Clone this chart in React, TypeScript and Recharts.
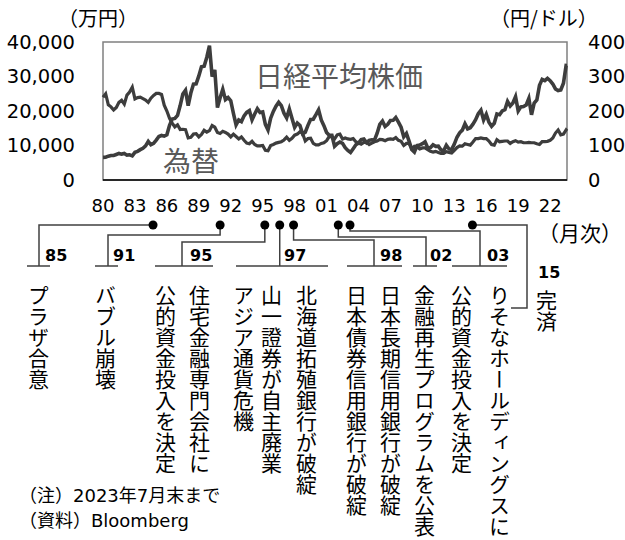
import React from 'react';
import { ComposedChart, Line, XAxis, YAxis, ReferenceArea, ReferenceDot } from 'recharts';

// ---- data ----
const START_YEAR = 1980;
const LAST_POINT = 2023 + 7 / 12; // end of July 2023

// Nikkei 225, quarterly (start of each quarter), 1980 Q1 .. 2023, last = Jul 2023
const nikkeiQuarterly = [
  6570, 6600, 6900, 7100, // 1980
  7116, 7400, 7700, 7500, // 1981
  7682, 7200, 7300, 7000, // 1982
  8017, 8300, 8800, 9200, // 1983
  9894, 11200, 10200, 10600, // 1984
  11543, 12600, 12900, 12700, // 1985
  13113, 15860, 17650, 17850, // 1986
  18701, 21570, 24900, 26000, // 1987
  21564, 25200, 27800, 27900, // 1988
  30159, 32800, 33000, 35600, // 1989
  38916, 29980, 31940, 20984, // 1990
  23849, 26290, 23290, 23916, // 1991
  22984, 19346, 15951, 17399, // 1992
  16925, 18591, 19590, 20106, // 1993
  17417, 19112, 20643, 19564, // 1994
  19723, 16140, 14517, 17913, // 1995
  19868, 21407, 22531, 21556, // 1996
  19361, 18003, 20605, 17888, // 1997
  15259, 16527, 15830, 13406, // 1998
  13842, 15837, 17530, 17605, // 1999
  18934, 20337, 17411, 15747, // 2000
  13786, 12999, 12969, 9775, // 2001
  10543, 11025, 10622, 9383, // 2002
  8579, 7973, 9083, 10219, // 2003
  10677, 11715, 11858, 10824, // 2004
  11489, 11669, 11584, 13574, // 2005
  16111, 17060, 15505, 16128, // 2006
  17226, 17288, 18138, 16786, // 2007
  15308, 12526, 13481, 11260, // 2008
  8860, 8110, 9958, 10133, // 2009
  10546, 11090, 9383, 9369, // 2010
  10229, 9755, 9816, 8700, // 2011
  8455, 10084, 9007, 8870, // 2012
  10395, 12398, 13677, 14456, // 2013
  16291, 14828, 15162, 16174, // 2014
  17451, 19207, 20236, 17388, // 2015
  19034, 16759, 15576, 16450, // 2016
  19114, 18909, 20033, 20356, // 2017
  22765, 21454, 22305, 24120, // 2018
  20015, 21206, 21276, 21756, // 2019
  23657, 18917, 22288, 23185, // 2020
  27444, 29179, 28792, 29453, // 2021
  28792, 27821, 26393, 25937, // 2022
  26095, 28041, 33189, // 2023
  33172, // Jul 2023
];

// USD/JPY, same periods
const usdJpyQuarterly = [
  240, 250, 218, 212, // 1980
  203, 210, 225, 231, // 1981
  220, 246, 255, 269, // 1982
  235, 239, 240, 236, // 1983
  232, 225, 237, 245, // 1984
  251, 251, 248, 217, // 1985
  200, 179, 165, 154, // 1986
  160, 146, 147, 146, // 1987
  122, 124, 133, 134, // 1988
  125, 132, 144, 139, // 1989
  143, 158, 153, 138, // 1990
  135, 141, 138, 133, // 1991
  125, 133, 126, 119, // 1992
  125, 115, 107, 105, // 1993
  112, 103, 99, 99, // 1994
  100, 86, 85, 100, // 1995
  103, 107, 109, 111, // 1996
  116, 124, 115, 121, // 1997
  130, 133, 140, 135, // 1998
  113, 120, 121, 106, // 1999
  102, 102, 106, 108, // 2000
  114, 126, 125, 119, // 2001
  131, 133, 119, 122, // 2002
  119, 118, 120, 111, // 2003
  107, 104, 109, 110, // 2004
  103, 107, 111, 113, // 2005
  118, 117, 114, 118, // 2006
  119, 118, 123, 115, // 2007
  112, 100, 106, 106, // 2008
  91, 98, 96, 90, // 2009
  93, 93, 88, 83, // 2010
  81, 83, 80, 77, // 2011
  77, 82, 80, 78, // 2012
  86, 94, 99, 98, // 2013
  105, 103, 101, 110, // 2014
  120, 120, 122, 120, // 2015
  120, 113, 103, 101, // 2016
  117, 111, 112, 113, // 2017
  113, 106, 111, 114, // 2018
  110, 111, 108, 108, // 2019
  109, 108, 108, 105, // 2020
  103, 111, 111, 112, // 2021
  115, 122, 136, 145, // 2022
  131, 133, 145, // 2023
  142, // Jul 2023
];

const xTicks = [1980, 1983, 1986, 1989, 1992, 1995, 1998, 2001, 2004, 2007, 2010, 2013, 2016, 2019, 2022];
const leftTicks = [0, 10000, 20000, 30000, 40000];
const rightTicks = [0, 100, 200, 300, 400];

// events marked under the axis
const eventYears = [1984.7, 1991.0, 1995.2, 1996.6, 1997.9, 2002.1, 2003.2, 2014.7];
const eventTags = ['85', '91', '95', '97', '98', '02', '03', '15'];
const eventTexts = [
  ['プラザ合意'],
  ['バブル崩壊'],
  ['住宅金融専門会社に', '公的資金投入を決定'],
  ['北海道拓殖銀行が破綻', '山一證券が自主廃業', 'アジア通貨危機'],
  ['日本長期信用銀行が破綻', '日本債券信用銀行が破綻'],
  ['金融再生プログラムを公表'],
  ['りそなホールディングスに', '公的資金投入を決定'],
  ['完済'],
];

// ---- layout (pixels) ----
const DOT_DROP = 45;
const UNDERLINE_Y = 266;
const eventLayout = [
  { dropY: null, vx: 39, endY: UNDERLINE_Y, hookX: null, ul: [27, 50], tagX: 45, tagY: 255, cols: [38], colTop: 285 },
  { dropY: 235, vx: 108, endY: UNDERLINE_Y, hookX: null, ul: [95, 118], tagX: 113, tagY: 255, cols: [105], colTop: 285 },
  { dropY: 242, vx: 182, endY: UNDERLINE_Y, hookX: null, ul: [155, 213], tagX: 190, tagY: 255, cols: [199, 165], colTop: 285 },
  { dropY: null, vx: null, endY: UNDERLINE_Y, hookX: null, ul: [236, 328], tagX: 284, tagY: 255, cols: [306, 271, 243], colTop: 285 },
  { dropY: 240, vx: 374, endY: UNDERLINE_Y, hookX: null, ul: [347, 402], tagX: 380, tagY: 255, cols: [390, 356], colTop: 285 },
  { dropY: 237, vx: 426, endY: UNDERLINE_Y, hookX: null, ul: [413, 437], tagX: 430, tagY: 255, cols: [424], colTop: 285 },
  { dropY: 231, vx: 480, endY: UNDERLINE_Y, hookX: null, ul: [452, 507], tagX: 487, tagY: 255, cols: [499, 461], colTop: 285 },
  { dropY: null, vx: 527, endY: 308, hookX: 511, ul: null, tagX: 538, tagY: 272, cols: [546], colTop: 290 },
];

const JP = '"Noto Sans CJK JP", "Noto Sans", sans-serif';
const NUM = '"DejaVu Sans", Verdana, sans-serif';
const NOTE = '"DejaVu Sans", "Noto Sans CJK JP", sans-serif';
const LINE_COLOR = '#3d3d3d';
const LEADER = '#404040';

const data = nikkeiQuarterly.map((v, i) => ({
  t: i < nikkeiQuarterly.length - 1 ? START_YEAR + i / 4 : LAST_POINT,
  nikkei: v,
  fx: usdJpyQuarterly[i],
}));

const EventShape = (props: any) => {
  const { cx, cy, lay, tag } = props;
  if (cx == null || cy == null) return null;
  const y0 = cy + DOT_DROP;
  const vx = lay.vx == null ? cx : lay.vx;
  let d = `M${cx},${y0}`;
  if (lay.dropY != null) d += ` V${lay.dropY}`;
  d += ` H${vx} V${lay.endY}`;
  if (lay.hookX != null) d += ` H${lay.hookX}`;
  return (
    <g>
      <path d={d} fill="none" stroke={LEADER} strokeWidth={1.5} />
      {lay.ul && (
        <line x1={lay.ul[0]} x2={lay.ul[1]} y1={UNDERLINE_Y} y2={UNDERLINE_Y} stroke={LEADER} strokeWidth={1.5} />
      )}
      <text x={lay.tagX} y={lay.tagY} fontSize={16} fontWeight="bold" fontFamily={NUM} fill="#000" dominantBaseline="central">
        {tag}
      </text>
      <circle cx={cx} cy={y0} r={4.5} fill="#000" />
    </g>
  );
};

const textBase: React.CSSProperties = { position: 'absolute', whiteSpace: 'nowrap', lineHeight: 1, fontFamily: JP, color: '#000' };

export default function App() {
  return (
    <div style={{ position: 'absolute', left: 0, top: 0, width: 625, height: 540, background: '#fff', overflow: 'hidden' }}>
      <ComposedChart width={625} height={540} data={data} margin={{ top: 42, right: 0, bottom: 0, left: 0 }}>
        <XAxis
          dataKey="t"
          type="number"
          domain={[START_YEAR, 'dataMax']}
          ticks={xTicks}
          interval={0}
          tickFormatter={(v: number) => String(v % 100).padStart(2, '0')}
          height={360}
          tickLine={false}
          tickSize={0}
          tickMargin={19}
          axisLine={{ stroke: '#000', strokeWidth: 1.5 }}
          tick={{ fontSize: 18, fill: '#000', fontFamily: NUM }}
        />
        <YAxis
          yAxisId="left"
          domain={[0, 40000]}
          ticks={leftTicks}
          interval={0}
          width={103}
          tickLine={false}
          tickSize={0}
          tickMargin={28}
          axisLine={false}
          tickFormatter={(v: number) => v.toLocaleString('en-US')}
          tick={{ fontSize: 19.5, fill: '#000', fontFamily: NUM }}
        />
        <YAxis
          yAxisId="right"
          orientation="right"
          domain={[0, 400]}
          ticks={rightTicks}
          interval={0}
          width={58}
          tickLine={false}
          tickSize={0}
          tickMargin={21}
          axisLine={false}
          tick={{ fontSize: 19.5, fill: '#000', fontFamily: NUM }}
        />
        <ReferenceArea
          yAxisId="left"
          x1={START_YEAR}
          x2={LAST_POINT}
          y1={0}
          y2={40000}
          fill="none"
          stroke="#808080"
          strokeWidth={1.5}
          ifOverflow="visible"
        />
        <Line
          yAxisId="right"
          dataKey="fx"
          type="linear"
          stroke={LINE_COLOR}
          strokeWidth={3.2}
          dot={false}
          isAnimationActive={false}
        />
        <Line
          yAxisId="left"
          dataKey="nikkei"
          type="linear"
          stroke={LINE_COLOR}
          strokeWidth={3.6}
          dot={false}
          isAnimationActive={false}
        />
        {eventYears.map((yr, i) => (
          <ReferenceDot
            key={eventTags[i]}
            yAxisId="left"
            x={yr}
            y={0}
            r={4.5}
            ifOverflow="visible"
            shape={(p: any) => <EventShape {...p} lay={eventLayout[i]} tag={eventTags[i]} />}
          />
        ))}
      </ComposedChart>

      <div style={{ ...textBase, left: 58, top: 8, fontSize: 20 }}>（万円）</div>
      <div style={{ ...textBase, left: 490, top: 8, fontSize: 20 }}>（円/ドル）</div>
      <div style={{ ...textBase, left: 255, top: 61, fontSize: 28, color: '#595959' }}>日経平均株価</div>
      <div style={{ ...textBase, left: 163, top: 146, fontSize: 28, color: '#595959' }}>為替</div>
      <div style={{ ...textBase, left: 538, top: 222, fontSize: 21 }}>（月次）</div>

      {eventTexts.map((cols, i) =>
        cols.map((txt, j) => (
          <div
            key={`${i}-${j}`}
            style={{
              ...textBase,
              left: eventLayout[i].cols[j] - 10.5,
              top: eventLayout[i].colTop,
              fontSize: 21,
              lineHeight: '21px',
              writingMode: 'vertical-rl',
            }}
          >
            {txt}
          </div>
        ))
      )}

      <div style={{ ...textBase, left: 19, top: 487, fontSize: 18, fontFamily: NOTE }}>（注）2023年7月末まで</div>
      <div style={{ ...textBase, left: 19, top: 512, fontSize: 18, fontFamily: NOTE }}>（資料）Bloomberg</div>
    </div>
  );
}
